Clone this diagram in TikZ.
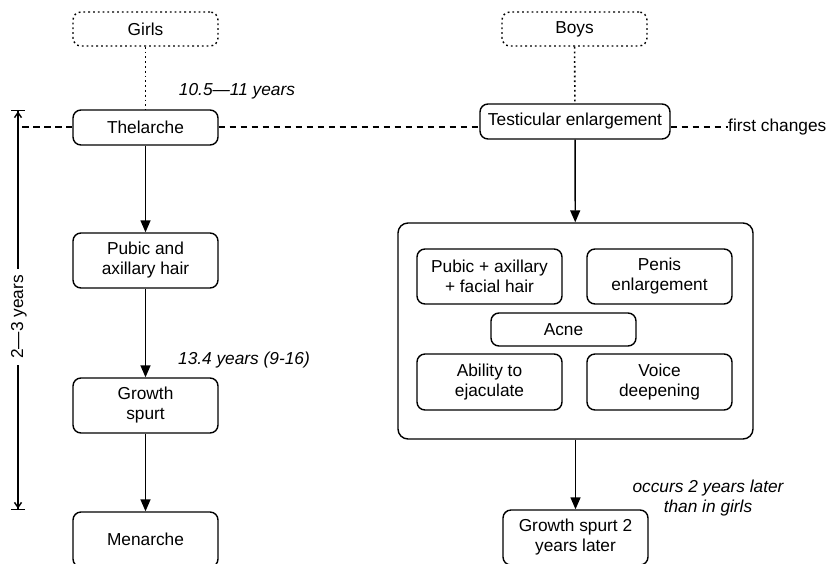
\documentclass[tikz,border=0pt]{standalone}
\usepackage{fontspec}
\setmainfont{Liberation Sans}
\usetikzlibrary{arrows.meta}
\begin{document}
\begin{tikzpicture}[x=1pt,y=-1pt,
  every node/.style={font=\fontsize{17.3}{20}\selectfont},
  box/.style={draw, rounded corners=8pt, line width=1.4pt, align=center, inner sep=0pt, minimum width=145pt, minimum height=55pt},
  dotbox/.style={box, dash pattern=on 1.8pt off 3pt, minimum height=34pt},
  lbl/.style={align=center, inner sep=0pt, font=\fontsize{17.3}{20}\selectfont\itshape},
  flow/.style={-{Triangle[length=12pt,width=10pt]}, line width=1.4pt},
  dotline/.style={line width=1.6pt, dash pattern=on 1.8pt off 3pt},
  dashline/.style={line width=1.3pt, dash pattern=on 6.5pt off 4.5pt},
  measure/.style={line width=1.4pt, {Bar[width=14pt]Straight Barb[length=5pt,width=7pt]}-{Straight Barb[length=5pt,width=7pt]Bar[width=14pt]}}
]
\clip (0,0) rectangle (829,563);
% Girls column
\node[dotbox] (girls) at (145.5,29) {Girls};
\node[box, minimum height=35pt] (thel) at (145.5,127.5) {Thelarche};
\node[box] (pub) at (145.5,260.5) {Pubic and\\axillary hair};
\node[box] (grow) at (145.5,405.5) {Growth\\spurt};
\node[box] (men) at (145.5,539.5) {Menarche};
% Boys column
\node[dotbox] (boys) at (574.5,29) {Boys};
\node[box, minimum width=190pt, minimum height=35pt] (test) at (575,121.5) {Testicular enlargement};
\node[draw, rounded corners=10pt, line width=1.4pt, minimum width=355pt, minimum height=216pt, inner sep=0pt] (big) at (575.5,331) {};
\node[box] (pfh) at (489.5,276.5) {Pubic + axillary\\+ facial hair};
\node[box] (pen) at (659.5,276.5) {Penis\\enlargement};
\node[box, minimum height=33pt] (acne) at (563.5,329.5) {Acne};
\node[box, minimum height=56pt] (abl) at (489.5,382) {Ability to\\ejaculate};
\node[box, minimum height=56pt] (voice) at (659.5,382) {Voice\\deepening};
\node[box] (gs2) at (575.5,537.5) {Growth spurt 2\\years later};
% labels
\node[lbl] (l1) at (237,91) {10.5—11 years};
\node[lbl] (l2) at (244,360) {13.4 years (9-16)};
\node[lbl] (l3) at (708,498) {occurs 2 years later\\than in girls};
\node[anchor=west, inner sep=0pt] (fc) at (728,127) {first changes};
% connectors
\draw[dotline] (girls) -- (thel);
\draw[dotline] (boys) -- (test);
\draw[flow] (thel) -- (pub);
\draw[flow] (pub) -- (grow);
\draw[flow] (grow) -- (men);
\draw[flow] (test) -- (big);
\draw[flow] (big) -- (gs2);
% dashed first-changes line
\coordinate (dl) at (22,127);
\draw[dashline] (dl) -- (dl -| thel.west);
\draw[dashline] (dl -| thel.east) -- (dl -| test.west);
\draw[dashline] (dl -| test.east) -- (fc.west);
% measurement
\coordinate (mtop) at (18,110);
\coordinate (mbot) at (18,510);
\draw[measure] (mtop) -- (mbot);
\node[fill=white, rotate=90, inner sep=6pt] (m) at (19,317) {2—3 years};
\end{tikzpicture}
\end{document}
